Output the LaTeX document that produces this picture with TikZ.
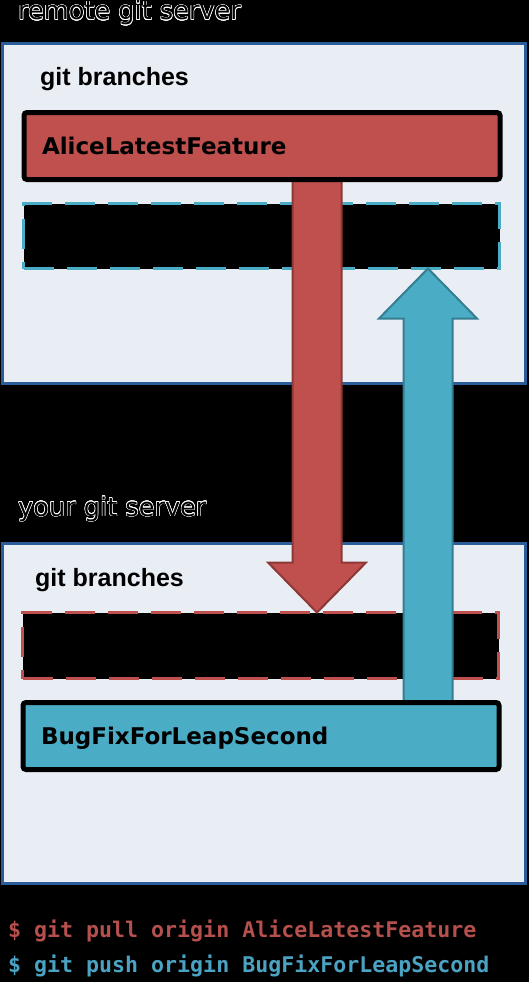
\documentclass[tikz,border=0pt]{standalone}
\usepackage{fontspec}
\usepackage{contour}
\usepackage{xcolor}
\usetikzlibrary{positioning,calc,shadows}
\newfontfamily\titlefont{DejaVu Sans}
\newfontfamily\labelfont{Liberation Sans}
\newfontfamily\cmdfont{DejaVu Sans Mono}
\definecolor{gitred}{HTML}{C0504D}
\definecolor{gitredline}{HTML}{8C3836}
\definecolor{gitblue}{HTML}{4BACC6}
\definecolor{gitblueline}{HTML}{357D91}
\definecolor{serverfill}{HTML}{E9EDF4}
\definecolor{serverline}{HTML}{2C5D9B}
\definecolor{cmdred}{HTML}{B5504D}
\definecolor{cmdblue}{HTML}{4BA3C3}
\contourlength{0.5pt}
\pgfdeclarelayer{back}
\pgfdeclarelayer{mid}
\pgfsetlayers{back,mid,main}
% fat block arrow: style, start, tip, direction (1 down, -1 up)
\newcommand{\fatarrow}[4]{%
  \draw[#1] ($(#2)+(-24.5,0)$) -- ($(#3)+(-24.5,{-50*(#4)})$) -- ($(#3)+(-49,{-50*(#4)})$)
    -- (#3) -- ($(#3)+(49,{-50*(#4)})$) -- ($(#3)+(24.5,{-50*(#4)})$) -- ($(#2)+(24.5,0)$) -- cycle;}
\tikzset{
  server/.style={draw=serverline, fill=serverfill, line width=3pt, minimum width=523pt,
    minimum height=340pt, inner sep=0pt, outer sep=0pt},
  branch/.style={draw=black, line width=5pt, rounded corners=3pt, minimum width=476pt,
    minimum height=67pt, text width=440pt, inner xsep=18pt, inner ysep=0pt, outer sep=0pt,
    text height=17pt, text depth=0pt, align=left,
    font=\titlefont\bfseries\fontsize{23}{23}\selectfont,
    drop shadow={opacity=0.35, shadow xshift=1.5pt, shadow yshift=-2pt}},
  emptybranch/.style={fill=black, line width=3pt, dash pattern=on 30pt off 13pt, minimum width=476pt,
    minimum height=65pt, inner sep=0pt, outer sep=0pt},
  title/.style={anchor=base west, inner sep=0pt, text=black,
    font=\titlefont\fontsize{25.6}{25.6}\selectfont},
  heading/.style={anchor=base west, inner sep=0pt, font=\labelfont\bfseries\fontsize{25}{25}\selectfont},
  cmd/.style={anchor=base west, inner sep=0pt, font=\cmdfont\bfseries\fontsize{21.6}{21.6}\selectfont},
  pull/.style={fill=gitred, draw=gitredline, line width=2pt},
  push/.style={fill=gitblue, draw=gitblueline, line width=2pt}
}
\begin{document}
\begin{tikzpicture}[x=1pt, y=-1pt]
      \useasboundingbox (0,0) rectangle (529,982);
      \begin{pgfonlayer}{back}
      \fill [black] (0,0) rectangle (529,982);
      \node [server]                           (remote) at (264.0, 213.5) {};
      \node [server]                             (your) at (264.0, 713.5) {};
      \node [emptybranch, draw=gitblue]      (bluedash) at (261.5, 236.0) {};
      \node [emptybranch, draw=gitred, minimum height=66pt] (reddash) at (260.5, 645.5) {};
      \end{pgfonlayer}
      \node [title]                         (remotetl) at ( 18.0,  20.0) {\contour{white}{remote git server}};
      \node [title]                           (yourtl) at ( 18.0, 516.0) {\contour{white}{your git server}};
      \node [heading]                       (remotebr) at ( 40.0,  85.0) {git branches};
      \node [heading]                         (yourbr) at ( 35.0, 586.0) {git branches};
      \node [branch, fill=gitred]              (alice) at (262.0, 146.0) {AliceLatestFeature};
      \node [branch, fill=gitblue]            (bugfix) at (261.0, 736.0) {BugFixForLeapSecond};
      \node [cmd, text=cmdred]                (pullcmd) at (  8.0, 937.0) {\$ git pull origin AliceLatestFeature};
      \node [cmd, text=cmdblue]               (pushcmd) at (  8.0, 972.0) {\$ git push origin BugFixForLeapSecond};
      \path (reddash.north) ++(56.5,0) coordinate (pulltip);
      \path (bluedash.south) ++(166.5,0) coordinate (pushtip);
      \begin{pgfonlayer}{mid}
      \fatarrow{pull}{alice -| pulltip}{pulltip}{1}
      \fatarrow{push}{bugfix -| pushtip}{pushtip}{-1}
      \end{pgfonlayer}
\end{tikzpicture}
\end{document}
